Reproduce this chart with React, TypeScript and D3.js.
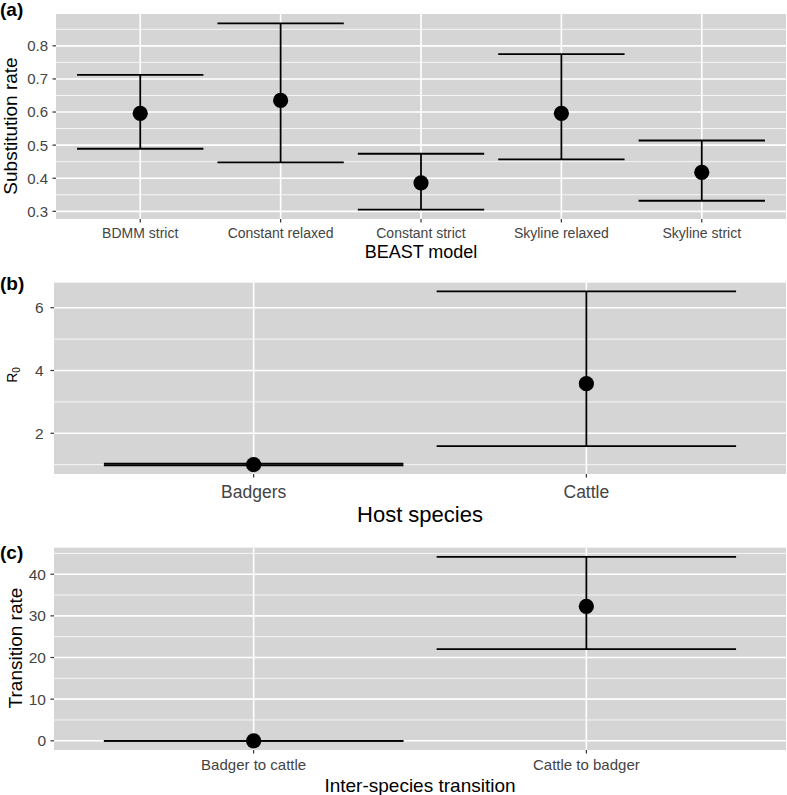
import React from 'react';
import * as d3 from 'd3';

// Panel (a): BEAST model substitution rates
const modelCategories = ['BDMM strict', 'Constant relaxed', 'Constant strict', 'Skyline relaxed', 'Skyline strict'];
const modelMean = [0.596, 0.635, 0.386, 0.596, 0.418];
const modelLower = [0.489, 0.448, 0.305, 0.457, 0.332];
const modelUpper = [0.712, 0.868, 0.474, 0.775, 0.514];
const modelTicks = [0.3, 0.4, 0.5, 0.6, 0.7, 0.8];
const modelTickLabels = ['0.3', '0.4', '0.5', '0.6', '0.7', '0.8'];

// Panel (b): R0 by host species
const hostCategories = ['Badgers', 'Cattle'];
const hostMean = [1.0, 3.58];
const hostLower = [0.98, 1.59];
const hostUpper = [1.03, 6.52];
const hostTicks = [2, 4, 6];
const hostTickLabels = ['2', '4', '6'];

// Panel (c): inter-species transition rates
const transCategories = ['Badger to cattle', 'Cattle to badger'];
const transMean = [0, 32.3];
const transLower = [0, 22.0];
const transUpper = [0, 44.16];
const transTicks = [0, 10, 20, 30, 40];
const transTickLabels = ['0', '10', '20', '30', '40'];

const FONT = "'Liberation Sans', Arial, Helvetica, sans-serif";
const PANEL_BG = '#d5d5d5';

type PanelProps = {
  cats: string[];
  mean: number[];
  lower: number[];
  upper: number[];
  ticks: number[];
  tickLabels: string[];
  left: number;
  right: number;
  top: number;
  bottom: number;
  yTickFont: number;
  yTickGap: number;
  xTickFont: number;
  xTickBaseline: number;
  xTitle: string;
  xTitleFont: number;
  xTitleBaseline: number;
  yTitle: React.ReactNode;
  yTitleFont: number;
  yTitleX: number;
  yTitleY: number;
  tag: string;
  tagBaseline: number;
};

function Panel(p: PanelProps) {
  const lo = d3.min(p.lower) as number;
  const hi = d3.max(p.upper) as number;
  const pad = (hi - lo) * 0.05;
  const y = d3.scaleLinear().domain([lo - pad, hi + pad]).range([p.bottom, p.top]);
  const x = d3.scalePoint<string>().domain(p.cats).range([p.left, p.right]).padding(0.6);
  const step = x.step();
  const half = step * 0.45;
  const tstep = p.ticks[1] - p.ticks[0];
  const minor = [p.ticks[0] - tstep / 2, ...p.ticks.map((t) => t + tstep / 2)].filter(
    (v) => v >= y.domain()[0] && v <= y.domain()[1]
  );
  const lineW = 1.8;
  return (
    <g>
      <rect x={p.left} y={p.top} width={p.right - p.left} height={p.bottom - p.top} fill={PANEL_BG} />
      {minor.map((v, i) => (
        <line key={'mn' + i} x1={p.left} x2={p.right} y1={y(v)} y2={y(v)} stroke="#fff" strokeWidth={0.8} />
      ))}
      {p.ticks.map((v, i) => (
        <line key={'mj' + i} x1={p.left} x2={p.right} y1={y(v)} y2={y(v)} stroke="#fff" strokeWidth={1.6} />
      ))}
      {p.cats.map((c, i) => (
        <line key={'vx' + i} x1={x(c)} x2={x(c)} y1={p.top} y2={p.bottom} stroke="#fff" strokeWidth={1.6} />
      ))}
      {/* y ticks */}
      {p.ticks.map((v, i) => (
        <g key={'yt' + i}>
          <line x1={p.left - 3.5} x2={p.left} y1={y(v)} y2={y(v)} stroke="#333" strokeWidth={1.2} />
          <text
            x={p.left - p.yTickGap}
            y={y(v)}
            dy="0.36em"
            textAnchor="end"
            fontSize={p.yTickFont}
            fill="#444"
            fontFamily={FONT}
          >
            {p.tickLabels[i]}
          </text>
        </g>
      ))}
      {/* x ticks */}
      {p.cats.map((c, i) => (
        <g key={'xt' + i}>
          <line x1={x(c)} x2={x(c)} y1={p.bottom} y2={p.bottom + 3.5} stroke="#333" strokeWidth={1.2} />
          <text
            x={x(c)}
            y={p.xTickBaseline}
            textAnchor="middle"
            fontSize={p.xTickFont}
            fill="#444"
            fontFamily={FONT}
          >
            {c}
          </text>
        </g>
      ))}
      {/* error bars */}
      {p.cats.map((c, i) => {
        const cx = x(c) as number;
        return (
          <g key={'eb' + i}>
            <line x1={cx} x2={cx} y1={y(p.lower[i])} y2={y(p.upper[i])} stroke="#000" strokeWidth={lineW} />
            <line x1={cx - half} x2={cx + half} y1={y(p.lower[i])} y2={y(p.lower[i])} stroke="#000" strokeWidth={lineW} />
            <line x1={cx - half} x2={cx + half} y1={y(p.upper[i])} y2={y(p.upper[i])} stroke="#000" strokeWidth={lineW} />
            <circle cx={cx} cy={y(p.mean[i])} r={7.6} fill="#000" />
          </g>
        );
      })}
      {/* titles */}
      <text
        x={(p.left + p.right) / 2}
        y={p.xTitleBaseline}
        textAnchor="middle"
        fontSize={p.xTitleFont}
        fill="#000"
        fontFamily={FONT}
      >
        {p.xTitle}
      </text>
      <text
        transform={`translate(${p.yTitleX},${p.yTitleY}) rotate(-90)`}
        textAnchor="middle"
        fontSize={p.yTitleFont}
        fill="#000"
        fontFamily={FONT}
      >
        {p.yTitle}
      </text>
      <text x={0} y={p.tagBaseline} fontSize={19} fontWeight="bold" fill="#000" fontFamily={FONT}>
        {p.tag}
      </text>
    </g>
  );
}

export default function App() {
  return (
    <svg
      width={787}
      height={795}
      viewBox="0 0 787 795"
      style={{ position: 'absolute', left: 0, top: 0, background: '#fff' }}
    >
      <rect x={0} y={0} width={787} height={795} fill="#fff" />
      <Panel
        cats={modelCategories}
        mean={modelMean}
        lower={modelLower}
        upper={modelUpper}
        ticks={modelTicks}
        tickLabels={modelTickLabels}
        left={56}
        right={786}
        top={14}
        bottom={219}
        yTickFont={15}
        yTickGap={8}
        xTickFont={14}
        xTickBaseline={238}
        xTitle="BEAST model"
        xTitleFont={18}
        xTitleBaseline={258}
        yTitle="Substitution rate"
        yTitleFont={19}
        yTitleX={17}
        yTitleY={126}
        tag="(a)"
        tagBaseline={16}
      />
      <Panel
        cats={hostCategories}
        mean={hostMean}
        lower={hostLower}
        upper={hostUpper}
        ticks={hostTicks}
        tickLabels={hostTickLabels}
        left={54}
        right={786}
        top={282.7}
        bottom={474}
        yTickFont={15.5}
        yTickGap={10.5}
        xTickFont={17.5}
        xTickBaseline={498}
        xTitle="Host species"
        xTitleFont={22}
        xTitleBaseline={522}
        yTitle={
          <>
            <tspan>R</tspan>
            <tspan fontSize={10} dy={3}>0</tspan>
          </>
        }
        yTitleFont={14}
        yTitleX={16.5}
        yTitleY={375}
        tag="(b)"
        tagBaseline={290}
      />
      <Panel
        cats={transCategories}
        mean={transMean}
        lower={transLower}
        upper={transUpper}
        ticks={transTicks}
        tickLabels={transTickLabels}
        left={54}
        right={786}
        top={547.7}
        bottom={750}
        yTickFont={15.5}
        yTickGap={8}
        xTickFont={15}
        xTickBaseline={770}
        xTitle="Inter-species transition"
        xTitleFont={19}
        xTitleBaseline={791.5}
        yTitle="Transition rate"
        yTitleFont={19}
        yTitleX={22}
        yTitleY={648}
        tag="(c)"
        tagBaseline={559}
      />
    </svg>
  );
}
